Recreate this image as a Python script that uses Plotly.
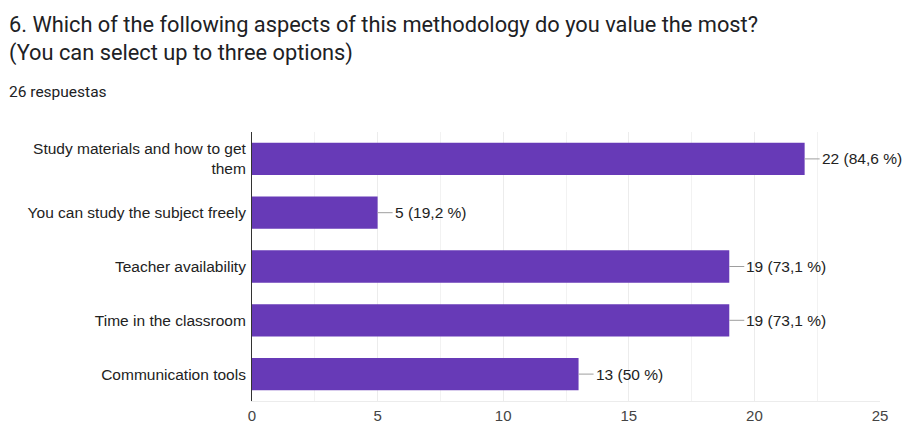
import plotly.graph_objects as go

# Survey results: responses per option (26 respondents, up to three choices each)
categories = [
    "Study materials and how to get<br>them",
    "You can study the subject freely",
    "Teacher availability",
    "Time in the classroom",
    "Communication tools",
]
counts = [22, 5, 19, 19, 13]
total_responses = 26
x_ticks = [0, 5, 10, 15, 20, 25]

title_line1 = "6. Which of the following aspects of this methodology do you value the most?"
title_line2 = "(You can select up to three options)"
subtitle = "26 respuestas"

BAR_COLOR = "#673ab7"
LABEL_FONT = "Liberation Sans, Arial, sans-serif"
TITLE_FONT = "Roboto, Arial, sans-serif"


def pct_label(n, total):
    p = round(n / total * 100, 1)
    s = f"{p:.1f}".rstrip("0").rstrip(".")
    return f"{n} ({s.replace('.', ',')} %)"


fig = go.Figure(
    go.Bar(
        x=counts,
        y=categories,
        orientation="h",
        marker=dict(color=BAR_COLOR, line=dict(width=0)),
        hoverinfo="skip",
    )
)

# Value labels with a short leader line from the bar end
for cat, n in zip(categories, counts):
    fig.add_annotation(
        x=n, y=cat, xref="x", yref="y",
        text=pct_label(n, total_responses),
        showarrow=True, arrowhead=0, arrowwidth=1, arrowcolor="#9e9e9e",
        ax=15, ay=0, xanchor="left", yanchor="middle",
        font=dict(family=LABEL_FONT, size=15.5, color="#222222"),
        standoff=0, startstandoff=0,
    )

# Question title and response count
fig.add_annotation(
    xref="paper", yref="paper", x=0, y=1, xanchor="left", yanchor="bottom",
    xshift=-245, yshift=64,
    text=title_line1 + "<br>" + title_line2, showarrow=False, align="left",
    font=dict(family=TITLE_FONT, size=21.8, color="#202124"),
)
fig.add_annotation(
    xref="paper", yref="paper", x=0, y=1, xanchor="left", yanchor="middle",
    xshift=-245, yshift=40,
    text=subtitle, showarrow=False, align="left",
    font=dict(family=TITLE_FONT, size=15.5, color="#202124"),
)

fig.update_layout(
    width=904, height=425,
    margin=dict(l=252, r=24, t=132, b=24),
    paper_bgcolor="white", plot_bgcolor="white",
    showlegend=False,
    bargap=0.4,
    xaxis=dict(
        range=[0, 25], tickvals=x_ticks, ticktext=[str(t) for t in x_ticks],
        showgrid=True, gridcolor="#ececec", gridwidth=1,
        minor=dict(dtick=2.5, showgrid=True, gridcolor="#f2f2f2"),
        zeroline=False, showline=True, linecolor="#ececec", linewidth=1,
        ticks="outside", ticklen=1, tickcolor="rgba(0,0,0,0)",
        tickfont=dict(family=LABEL_FONT, size=15, color="#444444"),
        automargin=False,
        fixedrange=True,
    ),
    yaxis=dict(
        autorange="reversed",
        showgrid=False, zeroline=False,
        showline=True, linecolor="#333333", linewidth=1,
        ticks="", ticklabelstandoff=2,
        tickfont=dict(family=LABEL_FONT, size=15.5, color="#222222"),
        automargin=False,
        fixedrange=True,
    ),
)

fig.write_html("out.html")
